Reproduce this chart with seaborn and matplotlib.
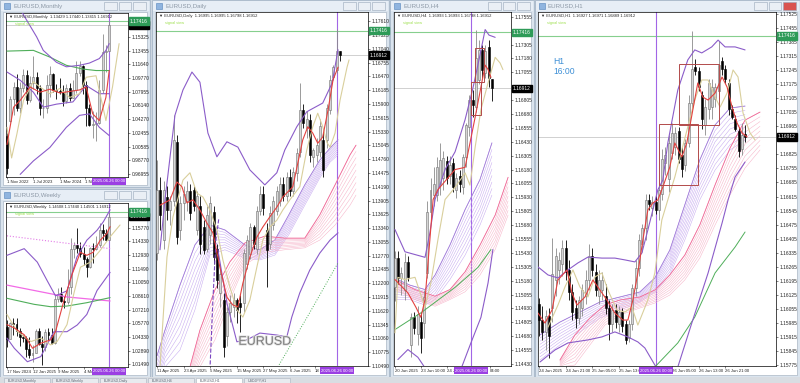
import matplotlib
matplotlib.use("Agg")
import matplotlib.pyplot as plt
import matplotlib.patheffects as pe
from matplotlib.patches import Rectangle
from matplotlib.transforms import offset_copy
import numpy as np
import seaborn as sns

sns.set_style("white")
plt.rcParams["font.family"] = ["Liberation Sans", "DejaVu Sans"]

# ---------------- data ----------------
CUR = 1.16912          # last price (gray line, black label)
LEVEL = 1.17416        # green horizontal level
SHIFT_LABEL = "2025.06.26 00:00"

# Monthly candles (open, high, low, close), Nov 2022 .. Jun 2025
MON_OHLC = [
    (1.0210, 1.0250, 0.9700, 0.9770), (1.0400, 1.0736, 1.0393, 1.0705), (1.0705, 1.0929, 1.0483, 1.0863),
    (1.0863, 1.1033, 1.0533, 1.0576), (1.0576, 1.0930, 1.0516, 1.0840), (1.0840, 1.1095, 1.0788, 1.1019),
    (1.1019, 1.1092, 1.0635, 1.0690), (1.0690, 1.1012, 1.0662, 1.0909), (1.0909, 1.1276, 1.0834, 1.0997),
    (1.0997, 1.1065, 1.0766, 1.0843), (1.0843, 1.0882, 1.0488, 1.0573), (1.0573, 1.0695, 1.0448, 1.0576),
    (1.0576, 1.1017, 1.0516, 1.0886), (1.0886, 1.1140, 1.0723, 1.1039), (1.1039, 1.1046, 1.0795, 1.0818),
    (1.0818, 1.0898, 1.0695, 1.0804), (1.0804, 1.0981, 1.0767, 1.0790), (1.0790, 1.0885, 1.0601, 1.0667),
    (1.0667, 1.0895, 1.0650, 1.0847), (1.0847, 1.0916, 1.0668, 1.0713), (1.0713, 1.0948, 1.0709, 1.0825),
    (1.0825, 1.1202, 1.0778, 1.1047), (1.1047, 1.1214, 1.1001, 1.1135), (1.1135, 1.1153, 1.0761, 1.0884),
    (1.0884, 1.0937, 1.0332, 1.0577), (1.0577, 1.0630, 1.0343, 1.0354), (1.0354, 1.0533, 1.0178, 1.0362),
    (1.0362, 1.0528, 1.0141, 1.0375), (1.0375, 1.0955, 1.0360, 1.0816), (1.0816, 1.1573, 1.0778, 1.1328),
    (1.1328, 1.1420, 1.1065, 1.1347), (1.13429, 1.17440, 1.13415, 1.16912),
]
MON_TICKS = [1.15325, 1.13455, 1.11640, 1.09770, 1.07955, 1.06140, 1.04270, 1.02455, 1.00585, 0.98770, 0.96955]
MON_DATES = [(0, "1 Nov 2022"), (8, "1 Jul 2023"), (16, "1 Mar 2024"), (23.6, "1 No")]
MON_GREEN = [(0, 1.134), (8, 1.135), (13, 1.126), (18, 1.115), (23, 1.110), (27, 1.108), (31, 1.108)]
MON_BB_UP = [(4.0, 1.190), (9, 1.153), (11, 1.135), (15, 1.119), (18, 1.113), (22, 1.115), (25, 1.118),
             (28, 1.124), (30, 1.135), (31, 1.144)]
MON_BB_MID = [(0, 1.106), (4, 1.095), (8, 1.079), (11, 1.059), (15, 1.063), (20, 1.066), (24, 1.088),
              (28, 1.077), (31, 1.077)]
MON_BB_LOW = [(4, 0.969), (8, 0.987), (13, 1.005), (18, 1.032), (22, 1.048), (25, 1.050), (28, 1.032), (31, 1.021)]
MON_RED = [(0, 1.009), (2, 1.059), (4, 1.068), (7, 1.086), (10, 1.079), (13, 1.083), (16, 1.078), (19, 1.080),
           (22, 1.082), (24, 1.086), (26, 1.050), (28, 1.041), (30, 1.072), (31, 1.108)]
MON_TAN = [(0, 1.032), (1.4, 0.991), (3, 1.023), (5, 1.068), (8, 1.093), (10, 1.086), (13, 1.077), (16, 1.084),
           (19, 1.072), (22, 1.077), (24, 1.099), (27, 1.101), (28, 1.081), (30, 1.041), (32, 1.086), (34, 1.144)]

# Weekly candles, 17 Nov 2024 .. 29 Jun 2025
WK_OHLC = [
    (1.0540, 1.0610, 1.0335, 1.0418), (1.0418, 1.0596, 1.0420, 1.0577), (1.0577, 1.0630, 1.0460, 1.0566),
    (1.0566, 1.0630, 1.0450, 1.0500), (1.0500, 1.0530, 1.0343, 1.0430), (1.0430, 1.0456, 1.0380, 1.0425),
    (1.0425, 1.0440, 1.0226, 1.0306), (1.0306, 1.0437, 1.0215, 1.0244), (1.0244, 1.0350, 1.0178, 1.0270),
    (1.0270, 1.0522, 1.0265, 1.0493), (1.0493, 1.0533, 1.0350, 1.0362), (1.0362, 1.0440, 1.0141, 1.0330),
    (1.0330, 1.0513, 1.0285, 1.0492), (1.0492, 1.0528, 1.0400, 1.0459), (1.0459, 1.0528, 1.0360, 1.0375),
    (1.0375, 1.0889, 1.0360, 1.0833), (1.0833, 1.0947, 1.0805, 1.0880), (1.0880, 1.0955, 1.0796, 1.0815),
    (1.0815, 1.0858, 1.0733, 1.0800), (1.0800, 1.1146, 1.0780, 1.0960), (1.0960, 1.1473, 1.0880, 1.1357),
    (1.1357, 1.1424, 1.1265, 1.1395), (1.1395, 1.1573, 1.1310, 1.1365), (1.1365, 1.1425, 1.1266, 1.1298),
    (1.1298, 1.1380, 1.1192, 1.1252), (1.1252, 1.1266, 1.1065, 1.1163), (1.1163, 1.1375, 1.1160, 1.1363),
    (1.1363, 1.1420, 1.1210, 1.1350), (1.1350, 1.1495, 1.1345, 1.1395), (1.1395, 1.1630, 1.1375, 1.1550),
    (1.1550, 1.1615, 1.1445, 1.1520), (1.1520, 1.1560, 1.1440, 1.1451), (1.14508, 1.17440, 1.14501, 1.16912),
]
WK_TICKS = [1.15770, 1.14330, 1.12930, 1.11490, 1.10050, 1.08610, 1.07210, 1.05770, 1.04330, 1.02890, 1.01490]
WK_DATES = [(0, "17 Nov 2024"), (8, "12 Jan 2025"), (16, "9 Mar 2025"), (24, "4 Ma")]
WK_BB_UP = [(0, 1.1288), (5.4, 1.1358), (9.5, 1.1217), (12.6, 1.1023), (15.2, 1.0864), (18.8, 1.0917),
            (21.9, 1.127), (25, 1.1446), (28.2, 1.155), (30.2, 1.164), (32.3, 1.1764)]
WK_BB_LOW = [(0, 1.0423), (2.3, 1.0317), (6.4, 1.0176), (10.6, 1.023), (14.7, 1.049), (18.8, 1.049),
             (22, 1.056), (25, 1.067), (28.2, 1.092), (32.3, 1.111)]
WK_PINK_DOT = [(0, 1.1492), (32.3, 1.1358)]
WK_MAGENTA = [(0, 1.0977), (18.8, 1.0853), (32.3, 1.0811)]
WK_GREEN = [(0, 1.0839), (8.5, 1.0776), (13.7, 1.0751), (18.8, 1.0758), (25, 1.0793), (32.3, 1.0846)]
WK_RED = [(0, 1.0564), (2.3, 1.0529), (5.4, 1.0458), (8, 1.0317), (10.6, 1.037), (13.7, 1.0405), (15.2, 1.049),
          (17.8, 1.081), (20.4, 1.109), (23, 1.132), (25, 1.1288), (27, 1.132), (29.2, 1.1446), (31.3, 1.1517),
          (32.3, 1.1588)]
WK_TAN = [(0, 1.067), (3.3, 1.049), (7.5, 1.0387), (10.6, 1.0423), (13.7, 1.0352), (15.7, 1.0387), (18.8, 1.0564),
          (20.9, 1.0882), (23, 1.1164), (26.1, 1.1217), (29.2, 1.1340), (32.3, 1.1482), (35.4, 1.1605)]

# Daily candles, 11 Apr 2025 ..
D_OHLC = [
    (1.1282, 1.1474, 1.1268, 1.1412), (1.1412, 1.1440, 1.1330, 1.1360), (1.1309, 1.1430, 1.1290, 1.1412),
    (1.1398, 1.1420, 1.1350, 1.1371), (1.1371, 1.1400, 1.1340, 1.1390), (1.1390, 1.1567, 1.1380, 1.1516),
    (1.1512, 1.1525, 1.1300, 1.1315), (1.1330, 1.1400, 1.1310, 1.1385), (1.1385, 1.1420, 1.1350, 1.1405),
    (1.1390, 1.1430, 1.1370, 1.1410), (1.1410, 1.1425, 1.1350, 1.1365), (1.1412, 1.1420, 1.1370, 1.1380),
    (1.1330, 1.1410, 1.1320, 1.1400), (1.1380, 1.1400, 1.1280, 1.1300), (1.1336, 1.1350, 1.1280, 1.1289),
    (1.1290, 1.1380, 1.1285, 1.1360), (1.1320, 1.1400, 1.1300, 1.1385), (1.1367, 1.1380, 1.1260, 1.1274),
    (1.1290, 1.1300, 1.1210, 1.1227), (1.1200, 1.1260, 1.1170, 1.1240), (1.1185, 1.1200, 1.1068, 1.1088),
    (1.1110, 1.1170, 1.1090, 1.1160), (1.1160, 1.1195, 1.1140, 1.1180), (1.1170, 1.1200, 1.1150, 1.1185),
    (1.1185, 1.1190, 1.1138, 1.1165), (1.1180, 1.1195, 1.1120, 1.1170), (1.1179, 1.1290, 1.1160, 1.1282),
    (1.1260, 1.1320, 1.1250, 1.1310), (1.1280, 1.1345, 1.1270, 1.1335), (1.1335, 1.1340, 1.1290, 1.1300),
    (1.1290, 1.1380, 1.1280, 1.1370), (1.1370, 1.1420, 1.1360, 1.1405), (1.1405, 1.1420, 1.1360, 1.1375),
    (1.1330, 1.1345, 1.1212, 1.1289), (1.1300, 1.1380, 1.1290, 1.1365), (1.1340, 1.1400, 1.1330, 1.1390),
    (1.1370, 1.1420, 1.1360, 1.1410), (1.1390, 1.1440, 1.1380, 1.1425), (1.1425, 1.1440, 1.1390, 1.1400),
    (1.1400, 1.1450, 1.1390, 1.1440), (1.1440, 1.1455, 1.1400, 1.1410), (1.1410, 1.1460, 1.1400, 1.1450),
    (1.1448, 1.1500, 1.1430, 1.1489), (1.1490, 1.1633, 1.1480, 1.1578), (1.1578, 1.1590, 1.1540, 1.1551),
    (1.1540, 1.1575, 1.1520, 1.1560), (1.1557, 1.1570, 1.1470, 1.1485), (1.1480, 1.1500, 1.1460, 1.1495),
    (1.1485, 1.1520, 1.1470, 1.1505), (1.1490, 1.1560, 1.1480, 1.1545), (1.1516, 1.1530, 1.1440, 1.1454),
    (1.1516, 1.1590, 1.1500, 1.1582), (1.1578, 1.1650, 1.1570, 1.1640), (1.1646, 1.1670, 1.1640, 1.1666),
    (1.1660, 1.1744, 1.1655, 1.1700), (1.16995, 1.16995, 1.16798, 1.16912),
]
D_TICKS = [1.17610, 1.17325, 1.17040, 1.16755, 1.16470, 1.16185, 1.15900, 1.15615, 1.15330, 1.15045, 1.14760,
           1.14475, 1.14190, 1.13905, 1.13625, 1.13340, 1.13055, 1.12770, 1.12485, 1.12200, 1.11915, 1.11620,
           1.11345, 1.11060, 1.10775, 1.10490]
D_DATES = [(0, "11 Apr 2025"), (8, "23 Apr 2025"), (16, "5 May 2025"), (24, "15 May 2025"),
           (32, "27 May 2025"), (40, "6 Jun 2025"), (47.5, "18")]
D_BB_UP = [(0.9, 1.1289), (2.4, 1.1392), (5.4, 1.1567), (7.8, 1.1619), (10.5, 1.1656), (12.9, 1.1635),
           (15.3, 1.1530), (18.0, 1.1481), (21.0, 1.1512), (24.3, 1.1501), (27.9, 1.1454), (32.4, 1.1423),
           (36.0, 1.1448), (38.4, 1.1495), (42.0, 1.1543), (45.0, 1.1574), (49.8, 1.1592), (52.6, 1.1633),
           (54.4, 1.1702)]
D_BB_LOW = [(18.3, 1.1289), (21.0, 1.1179), (24.0, 1.1099), (27.0, 1.1103), (30.9, 1.1117), (36.0, 1.1113),
            (39.0, 1.1109), (40.5, 1.1150), (42.9, 1.1200), (45.9, 1.1247), (48.9, 1.1282), (52.0, 1.1309),
            (54.4, 1.1324)]
D_DASH = [(15.9, 1.1040), (16.8, 1.1185), (17.7, 1.1309), (18.6, 1.1355)]
D_GREEN = [(36.3, 1.1047), (45.3, 1.1152), (54.4, 1.1262)]
D_RED = [(0.9, 1.1381), (3.9, 1.1392), (6.0, 1.1429), (7.5, 1.1419), (9.0, 1.1386), (10.8, 1.1392), (12.9, 1.1371),
         (15.0, 1.1344), (16.8, 1.1324), (18.9, 1.1253), (21.0, 1.1191), (22.8, 1.1175), (24.3, 1.1171),
         (25.8, 1.1220), (27.9, 1.1274), (30.0, 1.1315), (31.8, 1.1336), (33.9, 1.1357), (36.0, 1.1377),
         (37.8, 1.1398), (40.8, 1.1419), (43.8, 1.1516), (45.3, 1.1543), (46.8, 1.1530), (48.3, 1.1509),
         (49.8, 1.1522), (51.4, 1.1578), (52.9, 1.1640), (54.4, 1.1666)]
D_TAN = [(0.9, 1.1047), (3.0, 1.1274), (4.8, 1.1357), (7.8, 1.1433), (9.9, 1.1448), (12.0, 1.1406), (13.8, 1.1398),
         (15.9, 1.1371), (18.0, 1.1330), (19.8, 1.1268), (21.9, 1.1212), (24.0, 1.1165), (25.8, 1.1150),
         (27.9, 1.1185), (30.0, 1.1253), (31.8, 1.1309), (33.9, 1.1336), (36.0, 1.1350), (37.8, 1.1371),
         (39.9, 1.1392), (42.9, 1.1419), (45.0, 1.1495), (46.8, 1.1543), (48.3, 1.1571), (49.8, 1.1543),
         (51.1, 1.1510), (52.0, 1.1501), (53.5, 1.1530), (55.0, 1.1598), (57.1, 1.1666), (57.7, 1.1681)]
D_LILAC_X = [0.0, 2.4, 6.9, 11.4, 15.9, 20.4, 26.4, 30.9, 35.4, 39.6, 44.4, 48.9, 52.0, 54.4]
D_LILAC_TOP = [1.1070, 1.1123, 1.1216, 1.1299, 1.1340, 1.1330, 1.1299, 1.1289, 1.1309, 1.1361, 1.1423, 1.1474,
               1.1499, 1.1516]
D_LILAC_BOT = [1.0990, 1.1047, 1.1082, 1.1165, 1.1278, 1.1289, 1.1272, 1.1268, 1.1278, 1.1320, 1.1381, 1.1437,
               1.1470, 1.1485]
D_PINK_X = [9.9, 12.9, 17.4, 21.9, 26.4, 32.4, 38.4, 44.4, 48.9, 53.5, 58.0, 59.8]
D_PINK_TOP = [1.1047, 1.1123, 1.1206, 1.1264, 1.1303, 1.1317, 1.1313, 1.1313, 1.1361, 1.1423, 1.1485, 1.1505]
D_PINK_BOT = [1.1000, 1.1047, 1.1103, 1.1185, 1.1258, 1.1284, 1.1289, 1.1293, 1.1309, 1.1340, 1.1381, 1.1402]

# H4 candles, 20 Jun 2025 ..
H4_OHLC = [
    (1.1512, 1.1545, 1.1500, 1.1538), (1.1538, 1.1545, 1.1515, 1.1520), (1.1520, 1.1530, 1.1505, 1.1525),
    (1.1510, 1.1543, 1.1501, 1.1535), (1.1535, 1.1540, 1.1518, 1.1521), (1.1460, 1.1489, 1.1449, 1.1485),
    (1.1485, 1.1490, 1.1470, 1.1475), (1.1470, 1.1495, 1.1460, 1.1488), (1.1481, 1.1490, 1.1453, 1.1466),
    (1.1480, 1.1510, 1.1466, 1.1503), (1.1525, 1.1590, 1.1520, 1.1580), (1.1580, 1.1610, 1.1570, 1.1600),
    (1.1595, 1.1620, 1.1585, 1.1605), (1.1595, 1.1629, 1.1590, 1.1620), (1.1605, 1.1642, 1.1595, 1.1627),
    (1.1610, 1.1635, 1.1600, 1.1628), (1.1626, 1.1630, 1.1605, 1.1610), (1.1612, 1.1630, 1.1605, 1.1622),
    (1.1624, 1.1628, 1.1598, 1.1602), (1.1600, 1.1615, 1.1592, 1.1610), (1.1612, 1.1618, 1.1598, 1.1605),
    (1.1602, 1.1632, 1.1596, 1.1629), (1.1629, 1.1660, 1.1620, 1.1658), (1.1656, 1.1685, 1.1648, 1.1681),
    (1.1681, 1.1690, 1.1665, 1.1676), (1.1674, 1.1744, 1.1670, 1.1718), (1.1699, 1.1735, 1.1695, 1.1726),
    (1.1726, 1.1730, 1.1700, 1.1708), (1.1705, 1.1730, 1.1700, 1.1725), (1.1728, 1.1735, 1.1692, 1.1700),
    (1.16993, 1.16993, 1.16798, 1.16912),
]
H4_TICKS = [1.17555, 1.17305, 1.17180, 1.17055, 1.16805, 1.16680, 1.16555, 1.16430, 1.16305, 1.16180, 1.16055,
            1.15930, 1.15805, 1.15680, 1.15555, 1.15430, 1.15305, 1.15180, 1.15055, 1.14930, 1.14805, 1.14680,
            1.14555, 1.14430]
H4_DATES = [(0, "20 Jun 2025"), (8, "23 Jun 10:00"), (16, "24 J"), (29.3, "04:00")]
H4_BB_UP = [(0, 1.1564), (3.1, 1.1544), (9.3, 1.1539), (10.8, 1.1561), (12.4, 1.1591), (15.5, 1.1618),
            (18.6, 1.1634), (21.7, 1.1663), (24.1, 1.1691), (26.3, 1.1721), (27.9, 1.1744), (29.1, 1.1739),
            (31.0, 1.1737)]
H4_BB_LOW = [(0.9, 1.1447), (4.0, 1.1456), (7.1, 1.1449), (10.8, 1.1433), (20.1, 1.1436), (23.5, 1.1462),
             (26.6, 1.1485), (28.8, 1.1516), (30.3, 1.1546)]
H4_RED = [(0, 1.1519), (4.0, 1.1507), (6.5, 1.1494), (8.0, 1.1485), (9.3, 1.1501), (10.8, 1.1555), (11.8, 1.1591),
          (13.3, 1.1600), (18.6, 1.1618), (21.7, 1.1620), (24.8, 1.1665), (27.9, 1.1712), (28.8, 1.1708),
          (29.7, 1.1701)]
H4_TAN = [(0, 1.1471), (0.9, 1.1521), (3.1, 1.1519), (6.2, 1.1521), (9.3, 1.1494), (11.1, 1.1516), (13.3, 1.1555),
          (15.5, 1.1591), (18.6, 1.1602), (21.7, 1.1615), (23.2, 1.1604), (24.8, 1.1638), (26.6, 1.1672),
          (28.8, 1.1696), (31.0, 1.1719), (32.5, 1.1714), (33.4, 1.1708)]
H4_GREEN = [(0, 1.1474), (8.0, 1.1489), (18.6, 1.1512), (25.7, 1.1530), (29.7, 1.1546)]
H4_LILAC_X = [0, 4.6, 9.3, 12.4, 17.0, 21.7, 26.3, 30.0]
H4_LILAC_TOP = [1.1520, 1.1514, 1.1510, 1.1523, 1.1550, 1.1582, 1.1609, 1.1642]
H4_LILAC_BOT = [1.1501, 1.1501, 1.1496, 1.1501, 1.1519, 1.1541, 1.1568, 1.1595]
H4_PINK_X = [0, 6.2, 12.4, 17.0, 21.7, 26.3, 31.0, 35.0]
H4_PINK_TOP = [1.1519, 1.1510, 1.1504, 1.1510, 1.1526, 1.1550, 1.1577, 1.1611]
H4_PINK_BOT = [1.1510, 1.1501, 1.1495, 1.1501, 1.1508, 1.1523, 1.1546, 1.1577]
H4_BOXES = [(24.8, 1.1697, 27.6, 1.1727), (23.5, 1.1667, 26.6, 1.1697)]

# H1 candles, 24 Jun 2025 ..
H1_OHLC = [
    (1.1608, 1.1611, 1.1592, 1.1600), (1.1600, 1.1607, 1.1590, 1.1594), (1.1594, 1.1605, 1.1585, 1.1602),
    (1.1602, 1.1606, 1.1581, 1.1592), (1.1606, 1.1641, 1.1599, 1.1623), (1.1620, 1.1636, 1.1612, 1.1632),
    (1.1625, 1.1634, 1.1618, 1.1630), (1.1628, 1.1640, 1.1622, 1.1636), (1.1636, 1.1640, 1.1620, 1.1624),
    (1.1625, 1.1630, 1.1610, 1.1614), (1.1614, 1.1618, 1.1600, 1.1604), (1.1606, 1.1610, 1.1596, 1.1601),
    (1.1601, 1.1612, 1.1598, 1.1610), (1.1606, 1.1618, 1.1602, 1.1615), (1.1612, 1.1625, 1.1608, 1.1620),
    (1.1620, 1.1638, 1.1615, 1.1632), (1.1632, 1.1636, 1.1622, 1.1625), (1.1624, 1.1628, 1.1612, 1.1615),
    (1.1612, 1.1625, 1.1608, 1.1620), (1.1615, 1.1624, 1.1610, 1.1620), (1.1612, 1.1618, 1.1603, 1.1606),
    (1.1606, 1.1610, 1.1590, 1.1598), (1.1598, 1.1608, 1.1594, 1.1605), (1.1605, 1.1608, 1.1596, 1.1599),
    (1.1598, 1.1607, 1.1594, 1.1604), (1.1604, 1.1606, 1.1594, 1.1597), (1.1598, 1.1600, 1.1588, 1.1590),
    (1.1591, 1.1600, 1.1589, 1.1598), (1.1598, 1.1618, 1.1595, 1.1616), (1.1616, 1.1630, 1.1612, 1.1626),
    (1.1626, 1.1643, 1.1622, 1.1640), (1.1638, 1.1648, 1.1634, 1.1646), (1.1646, 1.1663, 1.1640, 1.1660),
    (1.1660, 1.1663, 1.1655, 1.1658), (1.1656, 1.1662, 1.1652, 1.1659), (1.1659, 1.1662, 1.1653, 1.1655),
    (1.1655, 1.1670, 1.1650, 1.1665), (1.1663, 1.1685, 1.1660, 1.1680), (1.1678, 1.1686, 1.1672, 1.1682),
    (1.1670, 1.1692, 1.1664, 1.1688), (1.1683, 1.1698, 1.1680, 1.1693), (1.1686, 1.1696, 1.1682, 1.1693),
    (1.1694, 1.1696, 1.1678, 1.1680), (1.1682, 1.1686, 1.1671, 1.1675), (1.1677, 1.1690, 1.1674, 1.1688),
    (1.1688, 1.1712, 1.1686, 1.1708), (1.1708, 1.1744, 1.1705, 1.1725), (1.1726, 1.1730, 1.1722, 1.1724),
    (1.1724, 1.1726, 1.1714, 1.1716), (1.1712, 1.1714, 1.1695, 1.1700), (1.1697, 1.1710, 1.1692, 1.1706),
    (1.1705, 1.1720, 1.1700, 1.1718), (1.1706, 1.1720, 1.1700, 1.1716), (1.1710, 1.1718, 1.1706, 1.1716),
    (1.1714, 1.1739, 1.1710, 1.1727), (1.1729, 1.1731, 1.1722, 1.1725), (1.1725, 1.1727, 1.1718, 1.1720),
    (1.1718, 1.1720, 1.1702, 1.1705), (1.1705, 1.1707, 1.1700, 1.1701), (1.1700, 1.1702, 1.1694, 1.1695),
    (1.1694, 1.1696, 1.1681, 1.1684), (1.1685, 1.1698, 1.1682, 1.1692), (1.16927, 1.16971, 1.16889, 1.16912),
]
H1_TICKS = [1.17525, 1.17455, 1.17385, 1.17315, 1.17245, 1.17175, 1.17105, 1.17035, 1.16965, 1.16825, 1.16755,
            1.16685, 1.16615, 1.16545, 1.16475, 1.16405, 1.16335, 1.16265, 1.16195, 1.16125, 1.16055, 1.15985,
            1.15915, 1.15845, 1.15775]
H1_DATES = [(0, "24 Jun 2025"), (8, "24 Jun 21:00"), (16, "25 Jun 05:00"), (24, "25 Jun 13:00"),
            (40, "26 Jun 05:00"), (48, "26 Jun 13:00"), (56, "26 Jun 21:00")]
H1_BB_UP = [(-0.3, 1.16264), (2.7, 1.16224), (5.7, 1.16209), (8.7, 1.16249), (11.7, 1.16284), (14.7, 1.16313),
            (18.9, 1.16308), (22.8, 1.16308), (25.8, 1.16299), (28.8, 1.16289), (30.9, 1.16333), (32.7, 1.16448),
            (34.2, 1.16548), (35.7, 1.16648), (37.2, 1.16697), (38.7, 1.16882), (41.7, 1.17146), (44.7, 1.17296),
            (46.8, 1.17346), (48.9, 1.17331), (51.9, 1.17361), (53.8, 1.17395), (55.9, 1.17361), (58.9, 1.17361),
            (61.9, 1.17346)]
H1_BB_LOW = [(0.3, 1.15790), (4.8, 1.15850), (8.7, 1.15885), (14.7, 1.15900), (18.9, 1.15915), (22.8, 1.15940),
             (26.7, 1.15915), (29.7, 1.15890), (31.8, 1.15860), (34.8, 1.15775), (37.8, 1.15700), (39.9, 1.15710),
             (41.7, 1.15765), (45.9, 1.15984), (50.8, 1.16234), (55.0, 1.16483), (56.8, 1.16598), (58.9, 1.16712),
             (61.9, 1.16787)]
H1_RED = [(-0.3, 1.16034), (1.8, 1.15984), (3.9, 1.16049), (5.7, 1.16199), (8.4, 1.16249), (9.9, 1.16134),
          (11.4, 1.16074), (13.8, 1.16114), (16.2, 1.16199), (18.3, 1.16149), (20.4, 1.16099), (22.8, 1.16034),
          (25.2, 1.15999), (26.7, 1.15999), (28.2, 1.16099), (29.7, 1.16234), (31.2, 1.16398), (32.7, 1.16548),
          (34.2, 1.16583), (35.7, 1.16598), (37.2, 1.16662), (39.3, 1.16762), (40.8, 1.16882), (42.9, 1.16812),
          (44.4, 1.16882), (46.2, 1.17046), (47.7, 1.17181), (49.2, 1.17111), (50.8, 1.17096), (52.9, 1.17131),
          (55.0, 1.17211), (56.5, 1.17161), (58.0, 1.17061), (59.5, 1.16982), (61.0, 1.16932), (62.5, 1.16912)]
H1_TAN = [(2.7, 1.15964), (5.7, 1.16074), (7.8, 1.16164), (10.2, 1.16249), (12.3, 1.16164), (14.7, 1.16114),
          (16.8, 1.16214), (18.9, 1.16234), (20.7, 1.16149), (23.4, 1.16049), (25.8, 1.16039), (27.9, 1.16064),
          (29.7, 1.15974), (32.7, 1.16099), (34.8, 1.16234), (36.9, 1.16498), (38.7, 1.16598), (40.8, 1.16712),
          (42.9, 1.16847), (44.7, 1.16962), (46.8, 1.17096), (48.9, 1.17196), (50.8, 1.17196), (52.9, 1.17111),
          (54.4, 1.17061), (56.5, 1.17131), (58.3, 1.17246), (59.8, 1.17211), (61.3, 1.17031), (63.4, 1.16932),
          (64.9, 1.16897)]
H1_GREEN = [(34.8, 1.15765), (41.7, 1.15885), (46.8, 1.16014), (52.9, 1.16234), (58.9, 1.16363), (61.9, 1.16438)]
H1_LILAC_X = [0.3, 6.3, 12.3, 18.3, 24.3, 30.3, 34.8, 39.3, 43.8, 48.3, 52.9, 57.4, 61.9]
H1_LILAC_TOP = [1.15925, 1.15989, 1.16039, 1.16089, 1.16114, 1.16139, 1.16209, 1.16348, 1.16573, 1.16797,
                1.16972, 1.17056, 1.17066]
H1_LILAC_BOT = [1.15800, 1.15875, 1.15940, 1.16009, 1.16049, 1.16089, 1.16139, 1.16224, 1.16398, 1.16598,
                1.16747, 1.16847, 1.16897]
H1_PINK_X = [6.3, 10.8, 15.3, 19.8, 24.3, 30.3, 34.8, 39.3, 43.8, 48.3, 52.9, 57.4, 61.9, 66.4]
H1_PINK_TOP = [1.15800, 1.15925, 1.16009, 1.16074, 1.16099, 1.16114, 1.16149, 1.16224, 1.16323, 1.16473,
               1.16673, 1.16857, 1.16996, 1.17036]
H1_PINK_BOT = [1.15765, 1.15775, 1.15875, 1.15974, 1.16024, 1.16059, 1.16084, 1.16124, 1.16199, 1.16308,
               1.16473, 1.16623, 1.16757, 1.16847]
H1_BOXES = [(36.0, 1.16672, 47.7, 1.16977), (42.0, 1.16972, 54.1, 1.17276)]

# ---------------- drawing ----------------
W, H = 800, 383
fig = plt.figure(figsize=(8, 3.83), dpi=100)
fig.patch.set_facecolor("#cdd6e0")

PURPLE = "#8b5cc9"
RED = "#e3413f"
TAN = "#d9cf9c"
LILAC = "#c4a6ef"
PINK = "#f6b0c6"
FS_Y = 3.5
FS_X = 3.1


def fx(x):
    return x / W


def fy(y):
    return 1 - y / H


def rect(x0, y0, x1, y1, z=-5, **kw):
    fig.add_artist(Rectangle((fx(x0), fy(y1)), (x1 - x0) / W, (y1 - y0) / H,
                             transform=fig.transFigure, zorder=z, **kw))


def window(x0, y0, x1, y1, title, red_close=False):
    rect(x0, y0, x1, y1, fc="#dae4ee", ec="#a7b7c8", lw=0.6)
    rect(x0 + 1, y0 + 1, x1 - 1, y0 + 11, fc="#e7eef6", ec="none")
    rect(x0 + 3, y0 + 11.5, x1 - 3, y1 - 2, fc="white", ec="#9aa8b8", lw=0.4)
    rect(x0 + 4, y0 + 3, x0 + 10, y0 + 9, z=-4, fc="#8fb4df", ec="#5584bb", lw=0.4)
    fig.text(fx(x0 + 13), fy(y0 + 6.2), title, fontsize=4.4, color="#8c98a6", va="center")
    for k in range(3):
        bx = x1 - 46 + 14.5 * k
        fc = "#d9534f" if (red_close and k == 2) else "#eaeff5"
        rect(bx, y0 + 2, bx + 12.5, y0 + 9.5, z=-4, fc=fc, ec="#98a7b8", lw=0.4)


def line(ax, pts, color, lw=0.8, ls="-", z=5):
    xs, ys = zip(*pts)
    sns.lineplot(x=list(xs), y=list(ys), ax=ax, color=color, linewidth=lw, linestyle=ls,
                 estimator=None, sort=False, legend=False, zorder=z)


def ribbon(ax, xs, top, bot, color, edge, n=9):
    xs, top, bot = np.asarray(xs), np.asarray(top), np.asarray(bot)
    for k in range(n):
        f = k / (n - 1)
        ax.plot(xs, bot + (top - bot) * f, color=color, lw=0.35, zorder=2)
    ax.plot(xs, top, color=edge, lw=0.6, zorder=2)


def candles(ax, ohlc, width=0.6):
    o, h, l, c = (np.array(v) for v in zip(*ohlc))
    x = np.arange(len(o))
    up = c >= o
    ax.vlines(x[up], l[up], h[up], color="#8a8a8a", lw=0.6, zorder=3)
    ax.vlines(x[~up], l[~up], h[~up], color="black", lw=0.6, zorder=3)
    ax.bar(x[up], (c - o)[up], bottom=o[up], width=width, color="#d6d6d6",
           edgecolor="#707070", linewidth=0.4, zorder=4)
    ax.bar(x[~up], (c - o)[~up], bottom=o[~up], width=width, color="black",
           edgecolor="black", linewidth=0.4, zorder=4)


def panel(box, ohlc, xlim, ylim, ticks, dates, vline, header, width=0.6):
    x0, y0, x1, y1 = box
    ax = fig.add_axes([fx(x0), fy(y1), (x1 - x0) / W, (y1 - y0) / H])
    ax.set_facecolor("white")
    candles(ax, ohlc, width)
    ax.axhline(LEVEL, color="#86cf8e", lw=0.8, zorder=1)
    ax.axhline(CUR, color="#c9c9c9", lw=0.6, zorder=1)
    ax.axvline(vline, color="#a266e6", lw=0.8, zorder=1)

    ax.set_xlim(*xlim)
    ax.set_ylim(*ylim)
    for s in ax.spines.values():
        s.set_color("black")
        s.set_linewidth(0.5)
    ax.yaxis.tick_right()
    ax.set_yticks(ticks)
    ax.set_yticklabels([f"{t:.5f}" for t in ticks])
    ax.set_xticks([d[0] for d in dates])
    ax.set_xticklabels([d[1] for d in dates], ha="left")
    ax.tick_params(axis="both", length=1.5, width=0.4, pad=1,
                   bottom=True, right=True, left=False, top=False)
    ax.tick_params(axis="y", labelsize=FS_Y)
    ax.tick_params(axis="x", labelsize=FS_X)
    ax.set_xlabel("")
    ax.set_ylabel("")

    ytr = offset_copy(ax.get_yaxis_transform(), fig=fig, x=2, y=0, units="dots")
    ax.text(1.0, CUR, f"{CUR:.5f}", transform=ytr, fontsize=FS_Y, color="white", va="center",
            ha="left", bbox=dict(boxstyle="square,pad=0.25", fc="black", ec="black"), clip_on=False, zorder=10)
    ax.text(1.0, LEVEL, f"{LEVEL:.5f}", transform=ytr, fontsize=FS_Y, color="white", va="center",
            ha="left", bbox=dict(boxstyle="square,pad=0.25", fc="#2e9b58", ec="#2e9b58"), clip_on=False,
            zorder=10)
    xtr = offset_copy(ax.get_xaxis_transform(), fig=fig, x=0, y=-2.5, units="dots")
    ax.text(vline, 0, SHIFT_LABEL, transform=xtr, ha="center", va="top", fontsize=FS_X, color="white",
            bbox=dict(boxstyle="square,pad=0.25", fc="#9b3fe3", ec="none"), clip_on=False, zorder=10)
    htr = offset_copy(ax.transAxes, fig=fig, x=3, y=-2, units="dots")
    ax.text(0, 1, "\u25bc " + header, transform=htr, fontsize=3.0, va="top", ha="left", zorder=10)
    ltr = offset_copy(ax.transAxes, fig=fig, x=9, y=-9, units="dots")
    ax.text(0, 1, "signal view", transform=ltr, fontsize=2.8, color="#9ee04e", va="top", ha="left", zorder=10)
    return ax


# windows
window(0, 0, 150, 187, "EURUSD,Monthly")
window(0, 189, 150, 377, "EURUSD,Weekly")
window(152, 0, 389, 377, "EURUSD,Daily")
window(390, 0, 534, 377, "EURUSD,H4")
window(535, 0, 800, 377, "EURUSD,H1", red_close=True)

# bottom tab strip
rect(0, 377, 800, 383, fc="#d9dde2", ec="none")
TABS = ["EURUSD,Monthly", "EURUSD,Weekly", "EURUSD,Daily", "EURUSD,H4", "EURUSD,H1", "USDJPY,H1"]
for k, name in enumerate(TABS):
    tx = 4 + 48 * k
    rect(tx, 378, tx + 46, 383, z=-4, fc="white" if k == 4 else "#e8ebef", ec="#a9b3bf", lw=0.4)
    fig.text(fx(tx + 4), fy(380.8), name, fontsize=2.6, color="#5a6470", va="center")

# Monthly
ax = panel((6, 13, 128, 177), MON_OHLC, (-0.3, 36.7), (0.9655, 1.1850), MON_TICKS, MON_DATES, 31,
           "EURUSD,Monthly  1.13429 1.17440 1.13415 1.16912")
line(ax, MON_GREEN, "#4fae5a", 0.8)
line(ax, MON_BB_UP, PURPLE)
line(ax, MON_BB_MID, PURPLE)
line(ax, MON_BB_LOW, PURPLE)
line(ax, MON_TAN, TAN)
line(ax, MON_RED, RED)

# Weekly
ax = panel((6, 203, 128, 367), WK_OHLC, (-0.3, 37.9), (1.0121, 1.1835), WK_TICKS, WK_DATES, 32,
           "EURUSD,Weekly  1.14508 1.17440 1.14501 1.16912")
line(ax, WK_PINK_DOT, "#e27ae6", 0.8, ":")
line(ax, WK_MAGENTA, "#f26ae6", 0.9)
line(ax, WK_GREEN, "#4fae5a", 0.8)
line(ax, WK_BB_UP, PURPLE)
line(ax, WK_BB_LOW, PURPLE)
line(ax, WK_TAN, TAN)
line(ax, WK_RED, RED)

# Daily
ax = panel((156, 12, 368, 366), D_OHLC, (-0.3, 63.4), (1.1049, 1.1780), D_TICKS, D_DATES, 54,
           "EURUSD,Daily  1.16995 1.16995 1.16798 1.16912")
ribbon(ax, D_LILAC_X, D_LILAC_TOP, D_LILAC_BOT, LILAC, "#a27ed9")
ribbon(ax, D_PINK_X, D_PINK_TOP, D_PINK_BOT, PINK, "#f06a98")
line(ax, D_BB_UP, PURPLE)
line(ax, D_BB_LOW, PURPLE)
line(ax, D_DASH, "#7a45c0", 0.8, "--")
line(ax, D_GREEN, "#4fae5a", 0.7, ":")
line(ax, D_TAN, TAN)
line(ax, D_RED, RED)
ax.text(32.4, 1.1099, "EURUSD", ha="center", va="center", fontsize=9, color="#7c7c7c", zorder=6,
        path_effects=[pe.withStroke(linewidth=1.2, foreground="#e2e2e2")])

# H4
ax = panel((394, 12, 511, 366), H4_OHLC, (-0.3, 35.9), (1.14412, 1.17598), H4_TICKS, H4_DATES, 23.5,
           "EURUSD,H4  1.16993 1.16993 1.16798 1.16912")
ribbon(ax, H4_LILAC_X, H4_LILAC_TOP, H4_LILAC_BOT, LILAC, "#a27ed9")
ribbon(ax, H4_PINK_X, H4_PINK_TOP, H4_PINK_BOT, PINK, "#f06a98")
line(ax, H4_GREEN, "#4fae5a", 0.7)
line(ax, H4_BB_UP, PURPLE)
line(ax, H4_BB_LOW, PURPLE)
line(ax, H4_TAN, TAN)
line(ax, H4_RED, RED)
for bx0, by0, bx1, by1 in H4_BOXES:
    ax.add_patch(Rectangle((bx0, by0), bx1 - bx0, by1 - by0, fill=False, ec="#b24a4a", lw=0.7, zorder=6))

# H1
ax = panel((538, 12, 776, 366), H1_OHLC, (-0.3, 71.2), (1.1577, 1.17535), H1_TICKS, H1_DATES, 35.1,
           "EURUSD,H1  1.16927 1.16971 1.16889 1.16912")
ribbon(ax, H1_LILAC_X, H1_LILAC_TOP, H1_LILAC_BOT, LILAC, "#a27ed9")
ribbon(ax, H1_PINK_X, H1_PINK_TOP, H1_PINK_BOT, PINK, "#f06a98")
line(ax, H1_GREEN, "#4fae5a", 0.7)
line(ax, H1_BB_UP, PURPLE)
line(ax, H1_BB_LOW, PURPLE)
line(ax, H1_TAN, TAN)
line(ax, H1_RED, RED)
for bx0, by0, bx1, by1 in H1_BOXES:
    ax.add_patch(Rectangle((bx0, by0), bx1 - bx0, by1 - by0, fill=False, ec="#b24a4a", lw=0.7, zorder=6))
ax.text(4.2, 1.17290, "H1", color="#3d8fd6", fontsize=6.2, va="center", ha="left", zorder=6)
ax.text(4.2, 1.17238, "16:00", color="#3d8fd6", fontsize=6.2, va="center", ha="left", zorder=6)

fig.savefig("out.png", dpi=100, facecolor=fig.get_facecolor())
